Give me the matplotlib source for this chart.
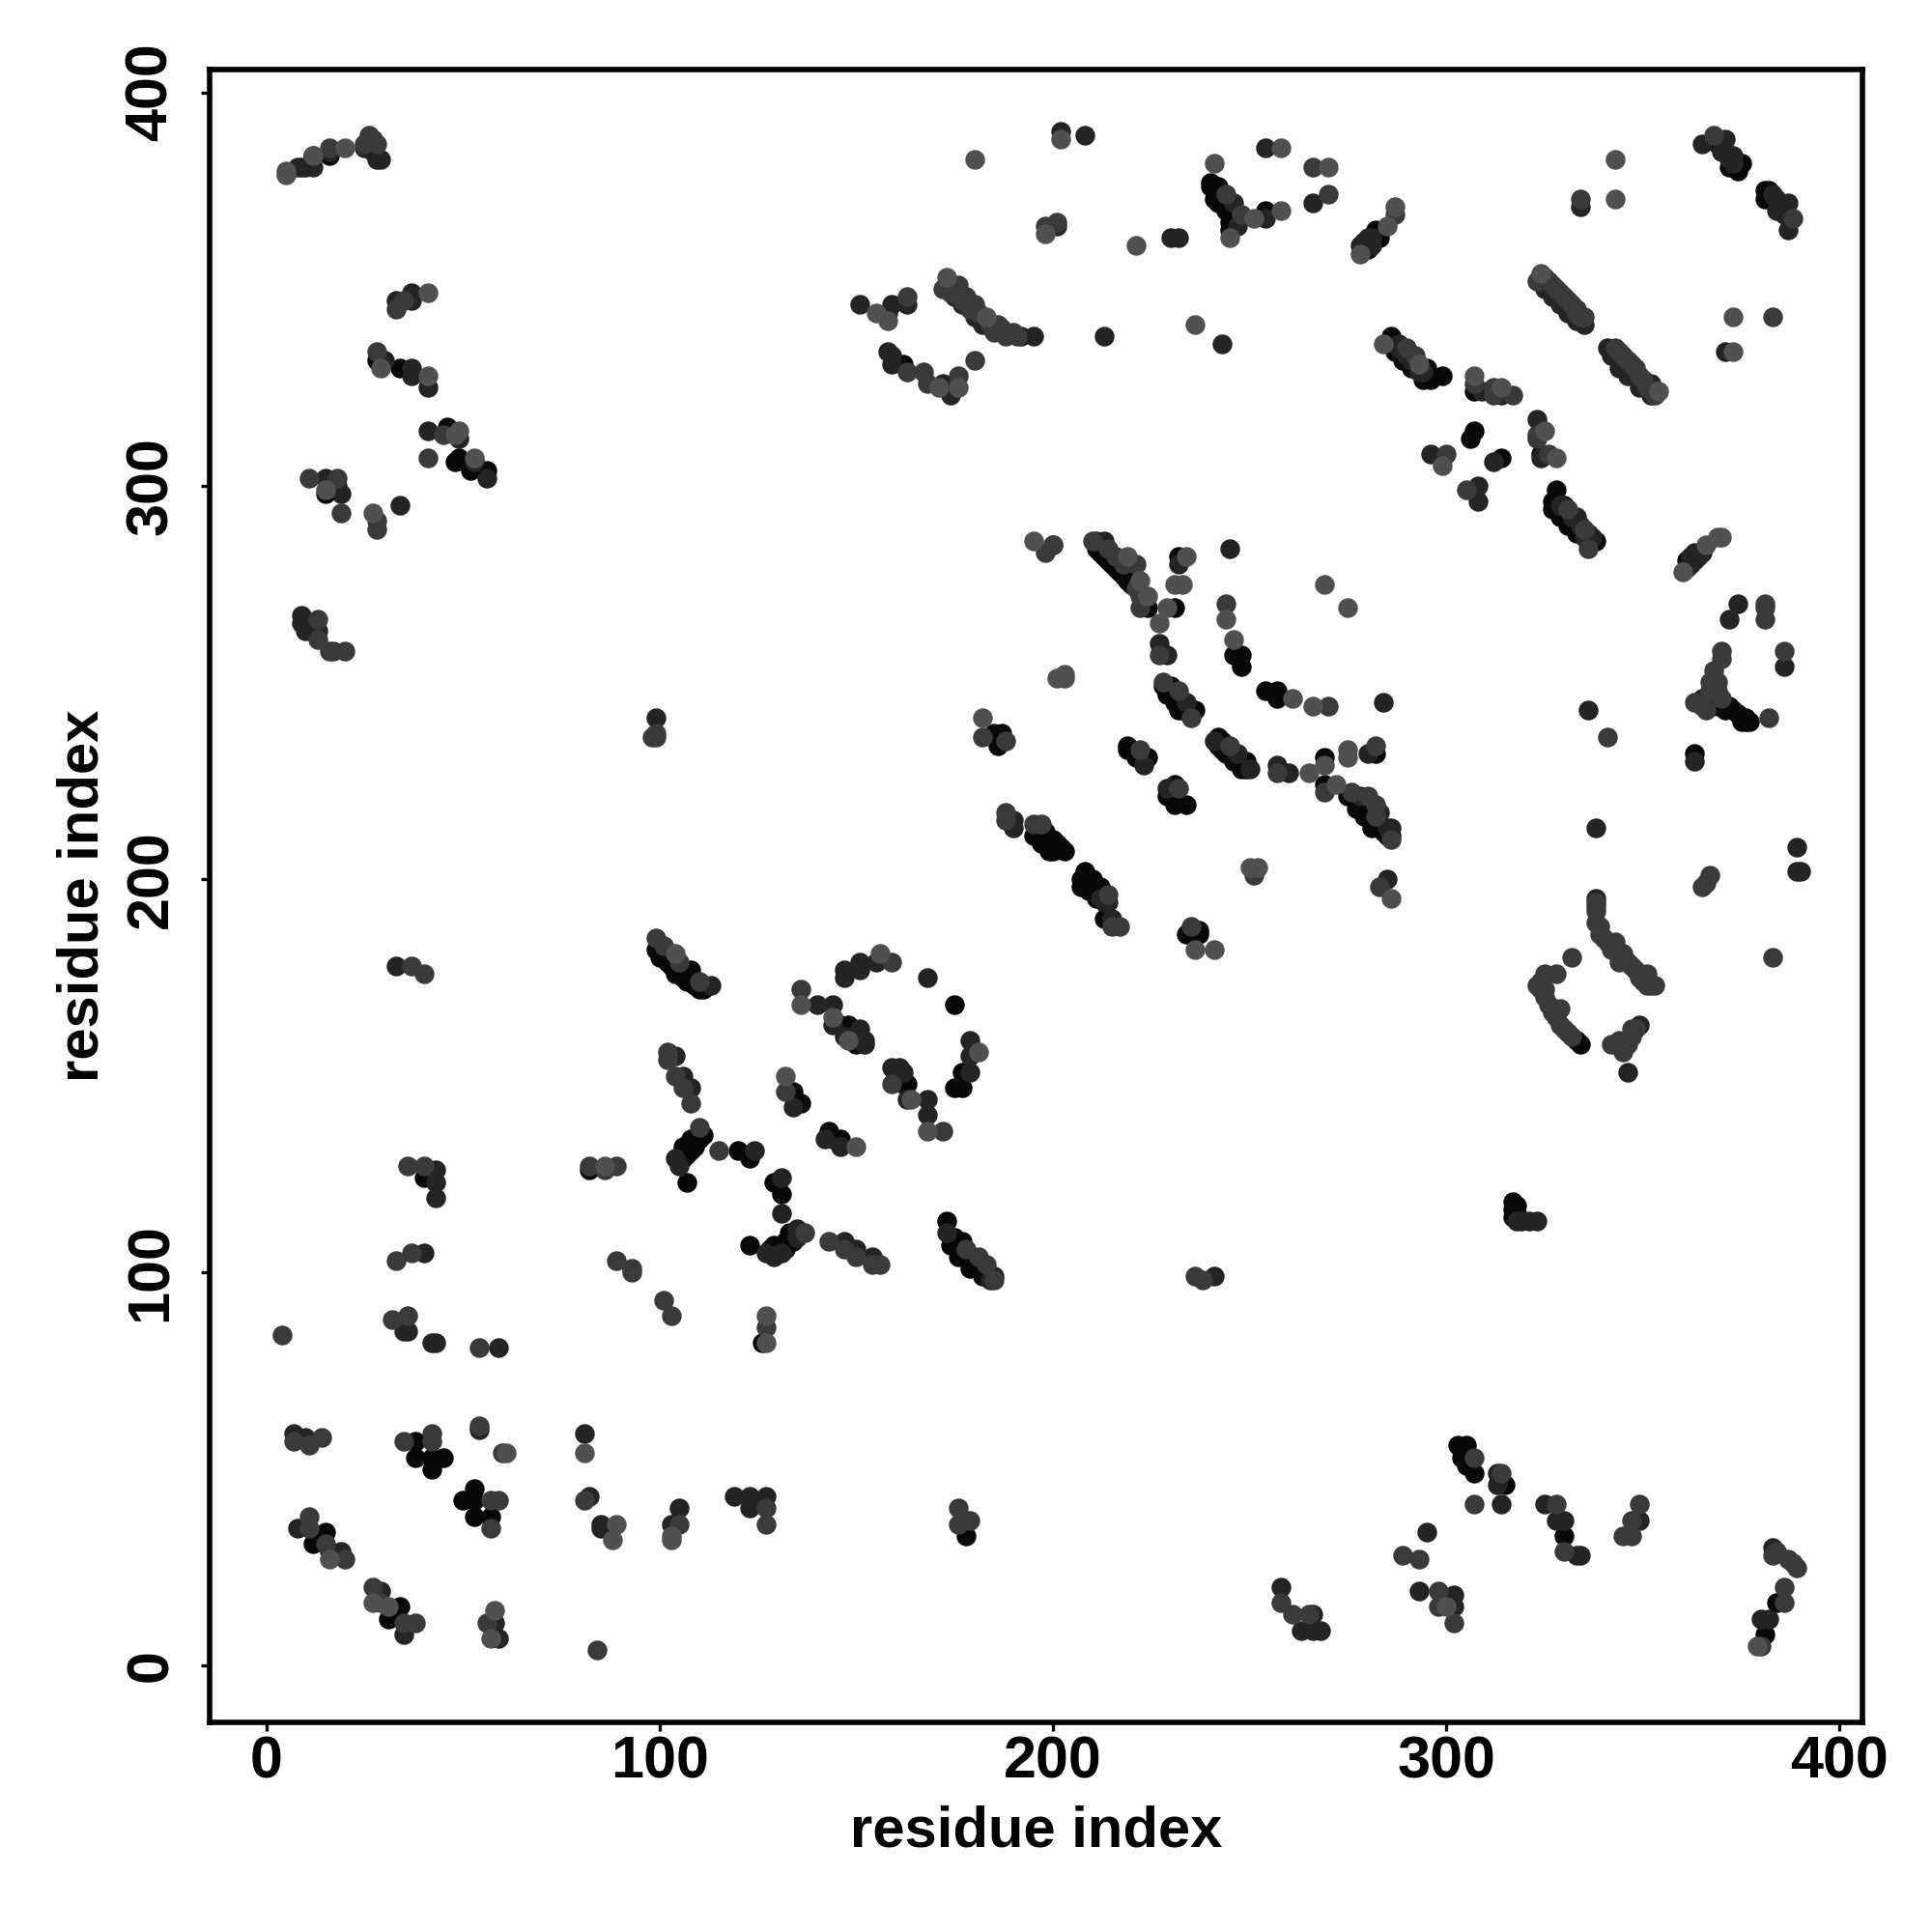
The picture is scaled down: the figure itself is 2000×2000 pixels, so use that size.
import matplotlib
matplotlib.use("Agg")
import matplotlib.pyplot as plt

# contacts, (i, j) residue pairs, one list per grey level
black = [(12,384),(16,384),(240,377),(240,376),(242,376),(242,372),(244,370),(245,367),(245,365),(254,370),
    (34,330),(28,332),(46,315),(48,306),(49,307),(52,304),(56,304),(15,298),(282,365),(283,363),(280,360),
    (369,387),(372,381),(375,382),(374,380),(381,375),(382,375),(381,373),(162,331),(174,325),
    (286,338),(286,336),(287,334),(289,332),(291,330),(295,330),(294,327),(296,327),(299,328),(307,324),
    (324,308),(307,314),(306,312),(314,307),(328,299),(327,296),(330,295),(327,294),(329,292),(331,290),
    (333,288),(338,286),(336,286),(361,281),(362,280),
    (211,284),(213,282),(215,280),(217,278),(220,275),(224,269),(231,269),(232,282),
    (246,257),(248,257),(248,254),(254,248),(257,248),(257,246),
    (228,249),(230,249),(229,247),(231,245),(233,243),(236,243),
    (185,237),(187,237),(186,234),(219,234),(219,233),(221,231),(224,231),
    (242,236),(242,234),(244,232),(246,230),(249,230),(248,228),(269,231),(282,232),(269,224),
    (275,221),(277,218),(279,216),(281,213),(284,212),(286,211),(231,224),(229,221),(231,219),(234,219),
    (195,211),(198,212),(197,209),(200,210),(199,207),(202,208),(200,207),
    (208,202),(207,200),(207,198),(210,200),(209,197),(212,198),(211,195),(213,190),
    (234,186),(237,187),(237,186),
    (99,182),(101,180),(104,176),(108,177),(107,174),(110,172),(148,163),(175,168),
    (177,151),(175,147),(177,147),(163,148),(134,146),(136,143),(143,136),(144,134),(146,134),
    (111,135),(108,134),(106,132),(108,131),(106,129),(107,123),(120,131),(123,129),(82,126),
    (129,123),(131,120),(133,110),(132,106),(129,107),(123,107),(130,105),
    (173,113),(174,107),(177,108),(176,104),(179,101),(182,99),
    (368,246),(372,244),(374,242),(376,241),(377,240),(363,232),
    (334,158),(333,159),(318,117),(317,118),(40,124),(126,82),
    (38,57),(38,53),(42,53),(45,53),(42,50),(50,42),(53,45),(53,42),(53,38),(57,38),
    (12,31),(15,34),(31,12),(34,15),(178,33),(303,56),(305,56),(304,53),(307,49),(305,51),(315,46),
    (330,33),(384,16),(381,8),
    (317,116),(318,115),(317,114),(100,180),(102,179),(103,178),(105,176),(106,175),(108,174),(109,173),(111,172),
    (175,109),(176,107),(178,104),(180,103),(181,101),(183,100),(212,283),(214,281),(216,279),(218,277),(219,276),
    (229,249),(230,247),(232,245),(232,243),(234,243),(243,235),(245,232),(247,230),(249,228),(243,233),
    (277,220),(278,218),(280,216),(282,214),(283,213),(285,211),(196,213),(198,210),(201,209),(203,207),
    (208,200),(209,199),(210,198),(212,197),(241,375),(241,373),(243,374),(243,372),(245,369),(246,367),
    (369,244),(371,243),(373,243),(375,241),(375,240),(376,240),(146,163),(149,162),(150,160),(150,158),
    (131,107),(132,108),(134,108),(128,106),(107,130),(109,132),(110,134),(160,150),(161,149),(162,148)]

dark = [(8,381),(9,381),(10,381),(12,381),(16,385),(25,386),(27,385),(28,383),(29,383),
    (33,347),(37,349),(37,347),(30,332),(37,330),(37,328),(41,325),(41,314),(49,312),(53,306),(56,302),
    (15,302),(19,298),(18,300),(34,295),(9,267),(9,265),(10,263),(13,263),
    (202,390),(208,389),(254,386),(266,372),(246,372),(247,366),(254,368),(230,363),(232,363),(201,366),
    (151,346),(159,346),(158,344),(163,346),(175,348),(177,346),(180,343),(182,341),(192,338),(195,338),
    (213,338),(243,336),(158,334),(159,333),(159,331),(172,326),(174,323),
    (365,387),(371,388),(371,385),(373,384),(384,373),(384,370),(387,372),(387,365),(334,371),
    (280,363),(278,361),(281,361),(326,352),(325,350),(327,348),(329,346),(331,344),(333,342),(335,341),
    (341,335),(342,333),(344,330),(346,328),(349,325),(352,326),(352,323),(371,334),
    (288,336),(336,288),(309,324),(314,323),(323,317),(324,307),(312,306),(296,308),(308,300),(308,296),
    (333,292),(365,283),(363,283),(363,281),(361,279),(374,270),(372,266),
    (213,286),(211,286),(200,285),(232,280),(245,284),(227,260),(229,257),(284,245),
    (234,245),(223,229),(241,235),(247,232),(250,228),(257,229),(260,227),(280,232),(278,221),(286,213),
    (229,223),(190,215),(190,213),(214,194),(215,190),(285,200),
    (113,173),(140,168),(144,168),(144,163),(151,162),(152,159),(147,177),(147,175),(151,179),(151,177),
    (155,179),(168,175),(179,159),(179,155),(179,151),(159,152),(162,151),(163,144),(168,144),(168,140),
    (104,155),(106,150),(108,147),(134,142),(142,134),(146,132),(104,129),(105,127),(124,131),(131,124),
    (131,115),(135,111),(127,105),(129,104),(147,108),(150,106),(154,104),(173,110),(185,99),
    (386,254),(365,246),(363,230),(336,243),(338,213),(389,208),(389,202),(390,202),(338,195),(324,174),
    (349,163),(346,151),(323,113),(241,99),(35,85),(36,85),(42,82),(43,82),(59,81),(40,105),(43,126),(43,123),(43,119),(33,178),
    (99,241),(7,59),(10,58),(54,60),(81,59),(82,43),(85,36),(85,35),(103,36),(105,40),(8,35),(16,29),(19,29),
    (29,19),(35,8),(58,11),(59,7),(119,43),(123,43),(123,40),(127,43),(258,20),(266,13),(263,9),(266,9),(268,9),
    (295,34),(293,19),(302,18),(302,15),(313,49),(313,46),(314,41),(325,41),(328,37),(330,37),(333,28),(334,28),
    (349,37),(383,30),(382,12),(380,12),
    (318,113),(319,113),(321,113),(288,335),(290,333),(291,332),(293,329),(294,329),(329,295),(332,292),(334,290),
    (335,287),(337,287),(362,282),(364,282),(279,362),(281,363),(370,385),(372,383),(373,382),(383,374),(385,371),
    (386,369),(147,160),(152,158),(161,152),(135,109),(131,105),(184,98),(212,195),(213,194),(283,217),(285,213)]

mid = [(16,386),(25,387),(26,389),(27,388),(28,387),(33,345),(35,347),(28,334),(45,313),(41,307),(11,302),(18,302),
    (19,293),(28,291),(28,289),(13,266),(13,261),(16,258),(17,258),(20,258),
    (266,381),(270,374),(244,374),(248,369),(198,366),(201,367),(163,348),(172,350),(176,351),(178,348),
    (180,346),(186,341),(185,339),(190,339),(163,329),(167,329),(168,326),(176,328),(180,332),
    (368,389),(388,368),(334,373),(287,369),(323,352),(328,350),(330,348),(332,346),(333,344),(335,343),
    (343,335),(345,333),(347,331),(349,328),(383,343),(290,335),(292,333),(307,326),(312,325),(312,323),(317,323),
    (323,313),(323,312),(326,308),(300,308),(305,299),(331,294),(335,289),(336,284),(381,269),(381,270),(381,266),
    (210,286),(214,284),(216,282),(221,280),(218,280),(222,269),(200,285),(198,283),(227,257),(244,270),(270,244),
    (228,250),(232,248),(235,241),(182,236),(188,235),(222,233),(245,234),(257,227),(282,234),(269,222),(276,222),
    (280,221),(282,219),(282,216),(286,210),(232,223),(188,217),(188,215),(195,214),(197,214),(214,196),(215,188),(217,188),
    (251,201),(283,198),(235,188),
    (99,185),(101,183),(105,179),(110,174),(136,172),(159,179),(159,148),(102,156),(102,154),(104,150),(106,147),
    (108,143),(132,146),(110,137),(115,131),(82,127),(89,127),(86,126),(137,110),(172,136),
    (143,108),(147,106),(150,104),(154,102),(156,102),(178,106),(181,104),(183,102),(185,98),
    (89,103),(93,101),(93,100),(101,93),(103,89),(127,86),
    (386,258),(370,258),(370,256),(368,253),(367,250),(363,245),(382,241),(341,236),(365,198),(367,201),(366,199),(383,180),
    (338,192),(338,189),(340,185),(343,184),(345,181),(347,178),(351,176),(351,173),(353,173),(332,180),(328,176),(325,176),
    (325,172),(326,168),(329,167),(329,163),(331,161),(347,162),(344,159),(342,158),(236,99),(238,98),
    (4,84),(32,88),(36,89),(54,81),(33,103),(37,105),(36,127),(40,127),(37,178),(40,176),(99,237),
    (7,57),(11,56),(14,58),(35,57),(42,59),(42,57),(54,61),(60,54),(81,42),(57,42),(59,42),(57,35),(105,36),
    (11,38),(11,35),(15,31),(20,27),(27,20),(29,16),(35,11),(38,11),(56,11),(84,4),(176,40),(176,36),(179,37),
    (258,16),(261,13),(265,13),(289,28),(293,27),(298,19),(298,15),(302,11),(307,53),(307,41),(314,49),(328,41),(330,29),
    (345,33),(347,33),(347,37),(349,41),(383,28),(387,27),(388,26),(389,25),(386,20),(386,16),(380,5),(127,40),(127,36),
    (338,194),(338,193),(339,188),(339,186),(341,184),(342,182),(344,181),(344,179),(346,179),(348,177),(349,175),(350,174),(352,173),
    (323,173),(324,172),(325,170),(327,166),(328,165),(330,162),(332,160),(346,158),(347,160),(345,156),(348,162),
    (369,250),(369,248),(367,248),(365,244),(366,243),(370,246),(98,236),(99,236),
    (174,349),(175,350),(176,349),(177,347),(179,345),(181,344),(184,341),(187,340),(188,338),(191,338),
    (325,353),(327,351),(329,349),(331,347),(333,345),(334,343),(344,334),(346,332),(348,330),(350,327),(351,325),(353,323),
    (221,274),(222,272),(384,29)]

light = [(5,380),(5,379),(12,384),(20,386),(29,330),(41,349),(41,328),(48,313),(49,314),(53,307),(15,299),(27,293),
    (180,383),(202,388),(241,382),(258,386),(270,381),(251,368),(258,370),(245,363),(221,361),(198,364),
    (155,344),(158,342),(173,353),(183,343),(171,325),(176,325),(236,341),
    (343,383),(343,373),(287,371),(285,366),(278,359),(324,354),(354,324),(373,343),(373,334),
    (284,336),(293,331),(307,328),(314,325),(325,314),(328,307),(299,305),(370,287),(369,287),(366,285),(360,278),
    (269,275),(275,269),(195,286),(219,282),(222,276),(224,272),(229,269),(234,282),(231,275),(233,275),(227,265),
    (244,266),(246,261),(261,246),(266,244),(203,252),(201,251),(203,251),(182,241),(265,227),(269,229),(275,233),(275,231),
    (272,224),(252,203),(250,203),(286,195),(236,182),(241,182),
    (104,181),(136,168),(144,165),(148,159),(156,181),(181,156),(164,144),(168,136),(132,150),(150,132),(86,127),
    (127,89),(127,82),(81,54),(61,54),(89,36),(88,32),(103,33),(103,32),(16,27),(27,16),(31,15),(58,14),(57,7),
    (300,15),(379,5)]

ticks = [0, 100, 200, 300, 400]
label = "residue index"
levels = [(black, "#080808"), (dark, "#242424"), (mid, "#3a3a3a"), (light, "#505050")]

plt.rcParams["font.family"] = ["Liberation Sans", "DejaVu Sans"]
plt.rcParams["font.weight"] = "bold"

fig = plt.figure(figsize=(10, 10), dpi=200)
ax = fig.add_axes([217 / 2000, 1 - 1783 / 2000, (1928 - 217) / 2000, (1783 - 72) / 2000])

for pts, col in levels:
    ax.scatter([p[0] for p in pts], [p[1] for p in pts], s=54, color=col, linewidths=0)

ax.set_xlim(-14.4, 405.8)
ax.set_ylim(-14.4, 405.8)
ax.set_xticks(ticks)
ax.set_yticks(ticks)
ax.tick_params(axis="both", length=3.2, width=1.2, labelsize=22)
ax.tick_params(axis="x", pad=1.5)
ax.tick_params(axis="y", pad=8)
plt.setp(ax.get_yticklabels(), rotation=90, va="center")
for s in ax.spines.values():
    s.set_linewidth(2.0)
ax.set_xlabel(label, fontsize=21.5, fontweight="bold", labelpad=5.5)
ax.set_ylabel(label, fontsize=21.5, fontweight="bold", labelpad=5.5)

fig.savefig("out.png", dpi=200)
